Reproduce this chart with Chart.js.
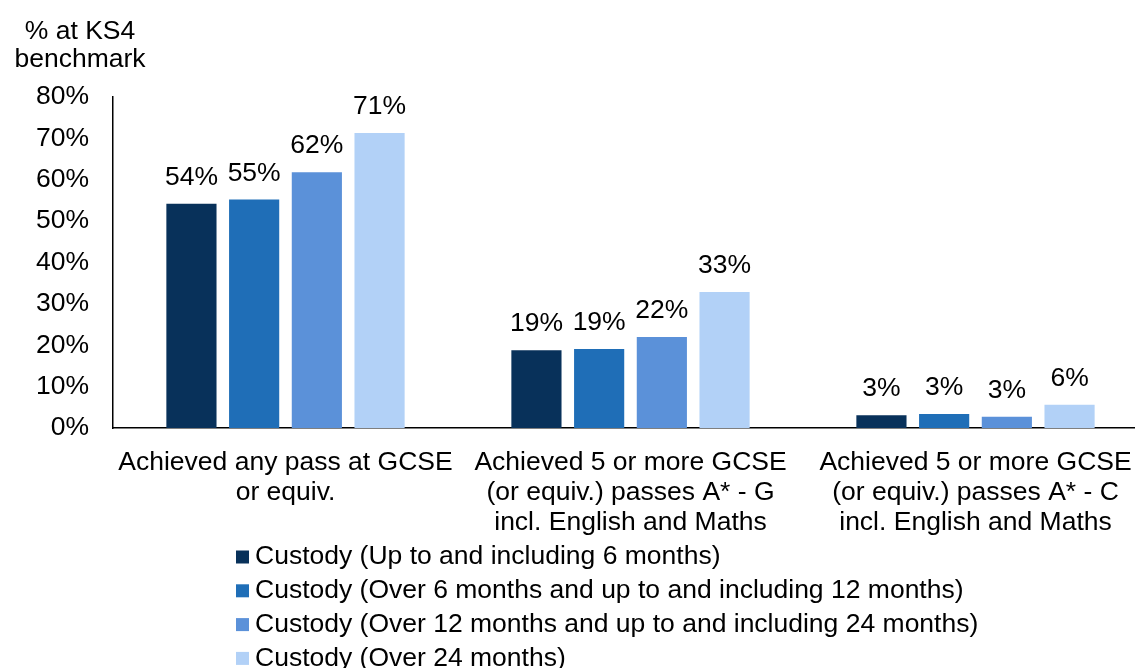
<!DOCTYPE html>
<html>
<head>
<meta charset="utf-8">
<script src="https://cdn.jsdelivr.net/npm/chart.js@4/dist/chart.umd.min.js"></script>
<style>
  html, body { margin: 0; padding: 0; background: #ffffff; overflow: hidden; }
  #wrap { width: 1148px; height: 668px; }
</style>
</head>
<body>
<div id="wrap"><canvas id="chart" width="1148" height="668"></canvas></div>
<script>
const categories = [
  ['Achieved any pass at GCSE', 'or equiv.'],
  ['Achieved 5 or more GCSE', '(or equiv.) passes A* - G', 'incl. English and Maths'],
  ['Achieved 5 or more GCSE', '(or equiv.) passes A* - C', 'incl. English and Maths'],
]
const seriesNames = [
  'Custody (Up to and including 6 months)',
  'Custody (Over 6 months and up to and including 12 months)',
  'Custody (Over 12 months and up to and including 24 months)',
  'Custody (Over 24 months)',
]
const upTo6 = [54.2, 18.8, 3.1]
const over6to12 = [55.2, 19.1, 3.4]
const over12to24 = [61.8, 22.0, 2.7]
const over24 = [71.3, 32.9, 5.6]
const yTicks = [0, 10, 20, 30, 40, 50, 60, 70, 80]
const seriesColors = ['#08315A', '#1F6EB7', '#5B91D9', '#B2D1F7']

const FONT = 'Arial, "Liberation Sans", sans-serif'
const SIZE = 26.5

// value labels above each bar
const barLabels = {
  id: 'barLabels',
  afterDatasetsDraw(chart) {
    const ctx = chart.ctx
    ctx.save()
    ctx.font = `${SIZE}px ${FONT}`
    ctx.fillStyle = '#000000'
    ctx.textAlign = 'center'
    ctx.textBaseline = 'alphabetic'
    chart.data.datasets.forEach((ds, i) => {
      chart.getDatasetMeta(i).data.forEach((bar, j) => {
        ctx.fillText(`${Math.round(ds.data[j])}%`, bar.x, bar.y - 19)
      })
    })
    ctx.restore()
  },
}

// axis title top-left and stacked legend underneath
const extras = {
  id: 'extras',
  afterDraw(chart) {
    const ctx = chart.ctx
    ctx.save()
    ctx.font = `${SIZE}px ${FONT}`
    ctx.fillStyle = '#000000'
    ctx.textAlign = 'center'
    ctx.textBaseline = 'middle'
    ctx.fillText('% at KS4', 80, 32)
    ctx.fillText('benchmark', 80, 60)

    ctx.textAlign = 'left'
    chart.data.datasets.forEach((ds, i) => {
      const y = 557 + i * 33.8
      ctx.fillStyle = ds.backgroundColor
      ctx.fillRect(236, y - 6.5, 13, 13)
      ctx.fillStyle = '#000000'
      ctx.fillText(ds.label, 255, y)
    })
    ctx.restore()
  },
}

const seriesData = [upTo6, over6to12, over12to24, over24]

new Chart(document.getElementById('chart'), {
  type: 'bar',
  data: {
    labels: categories,
    datasets: seriesData.map((data, i) => ({
      label: seriesNames[i],
      data,
      backgroundColor: seriesColors[i],
      borderWidth: 0,
      categoryPercentage: 0.727,
      barPercentage: 0.8,
    })),
  },
  options: {
    responsive: false,
    animation: false,
    devicePixelRatio: 1,
    layout: { padding: { top: 97, right: 0, bottom: 0, left: 0 } },
    plugins: {
      legend: { display: false },
      tooltip: { enabled: false },
    },
    scales: {
      x: {
        grid: { display: false },
        border: { display: true, color: '#000000', width: 1.5 },
        ticks: {
          color: '#000000',
          font: { size: SIZE, family: FONT, lineHeight: 1.13 },
          padding: 12,
          maxRotation: 0,
          autoSkip: false,
        },
        afterFit(scale) { scale.height = 240 },
      },
      y: {
        min: 0,
        max: 80,
        grid: { display: false },
        border: { display: true, color: '#000000', width: 1.5 },
        afterBuildTicks(scale) { scale.ticks = yTicks.map((v) => ({ value: v })) },
        ticks: {
          color: '#000000',
          font: { size: SIZE, family: FONT },
          padding: 16,
          callback: (v) => `${v}%`,
        },
        afterFit(scale) { scale.width = 113 },
      },
    },
  },
  plugins: [barLabels, extras],
})
</script>
</body>
</html>
